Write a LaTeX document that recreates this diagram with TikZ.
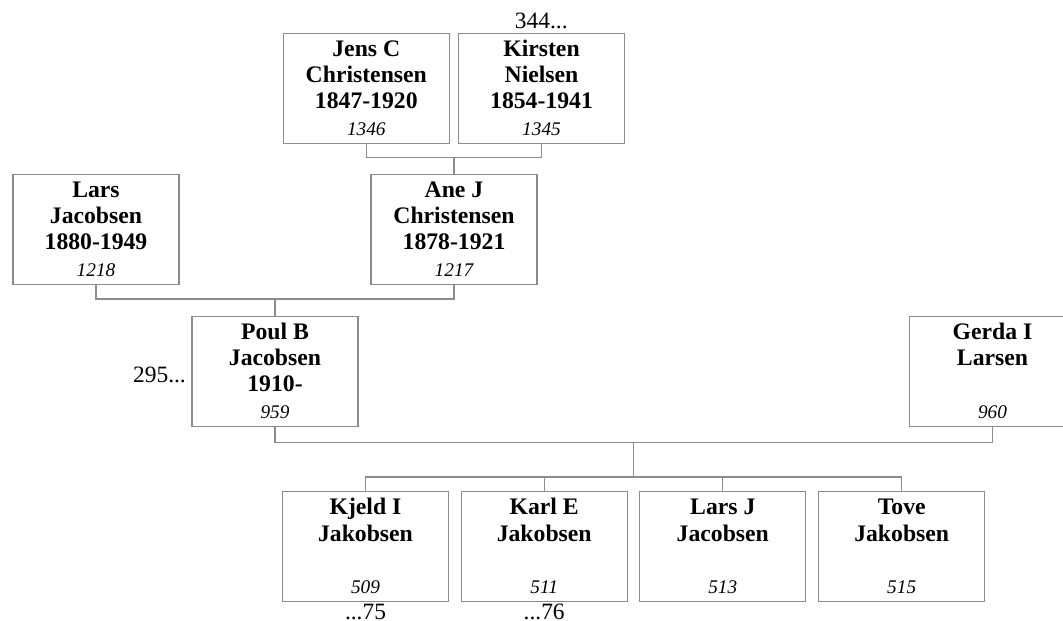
\documentclass[tikz,border=0pt]{standalone}
\usepackage{fontspec}
\setmainfont{Liberation Serif}
\usetikzlibrary{calc}
\definecolor{linegray}{HTML}{8C8C8C}
\newcommand\pbody[4]{\parbox[c][110pt][t]{166pt}{\centering\fontsize{23.7}{26.3}\selectfont\bfseries
  \rule{0pt}{23.2pt}#1\\#2\\\mbox{}#3\\{\fontsize{19.3}{26.3}\selectfont\mdseries\itshape #4}\par}}
\tikzset{
  pbox/.style={draw=linegray, line width=1.3pt, inner sep=0pt, minimum width=166pt, minimum height=110pt, anchor=north},
  conn/.style={draw=linegray, line width=1.3pt},
  lbl/.style={inner sep=0pt, font=\fontsize{23.4}{26}\selectfont}
}
\begin{document}
\begin{tikzpicture}[x=1pt,y=1pt]
\clip (0,0) rectangle (1063,-621);
% boxes
\node[pbox] (jens) at (366.3,-32.5) {\pbody{Jens C}{Christensen}{1847-1920}{1346}};
\node[pbox] (kirsten) at (541.5,-32.5) {\pbody{Kirsten}{Nielsen}{1854-1941}{1345}};
\node[pbox] (lars) at (96,-173.5) {\pbody{Lars}{Jacobsen}{1880-1949}{1218}};
\node[pbox] (ane) at (454,-173.5) {\pbody{Ane J}{Christensen}{1878-1921}{1217}};
\node[pbox] (poul) at (275,-315.5) {\pbody{Poul B}{Jacobsen}{1910-}{959}};
\node[pbox] (gerda) at (992.5,-315.5) {\pbody{Gerda I}{Larsen}{}{960}};
\node[pbox] (kjeld) at (365.5,-491) {\pbody{Kjeld I}{Jakobsen}{}{509}};
\node[pbox] (karl) at (544.2,-491) {\pbody{Karl E}{Jakobsen}{}{511}};
\node[pbox] (larsj) at (722.8,-491) {\pbody{Lars J}{Jacobsen}{}{513}};
\node[pbox] (tove) at (901.7,-491) {\pbody{Tove}{Jakobsen}{}{515}};
% labels
\node[lbl, anchor=base] (l344) at (541.3,-28.5) {344...};
\node[lbl, anchor=base east] (l295) at (186,-382) {295...};
\node[lbl, anchor=base] (l75) at (365.5,-619) {...75};
\node[lbl, anchor=base] (l76) at (544.2,-619) {...76};
% connectors
\coordinate (c1) at ($(ane.north)+(0,16.2)$);
\draw[conn] (jens.south) |- (c1) -| (kirsten.south);
\draw[conn] (c1) -- (ane.north);
\coordinate (c2) at ($(poul.north)+(0,16.5)$);
\draw[conn] (lars.south) |- (c2) -| (ane.south);
\draw[conn] (c2) -- (poul.north);
\coordinate (c3) at ($(poul.south)+(358.75,-15.5)$);
\draw[conn] (poul.south) |- (c3) -| (gerda.south);
\coordinate (c4) at ($(c3)+(0,-34.7)$);
\draw[conn] (c3) -- (c4);
\draw[conn] (kjeld.north) |- (c4) -| (tove.north);
\draw[conn] (karl.north) -- (karl.north |- c4);
\draw[conn] (larsj.north) -- (larsj.north |- c4);
\end{tikzpicture}
\end{document}
